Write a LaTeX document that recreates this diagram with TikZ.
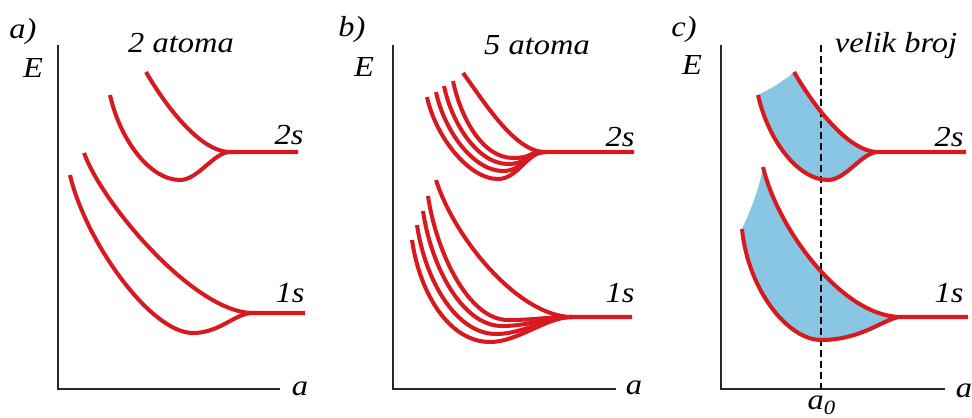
\documentclass[tikz,border=0pt]{standalone}
\usepackage{fontspec}
\setmainfont{Liberation Serif}
\definecolor{lvlred}{RGB}{215,25,32}
\definecolor{bandblue}{RGB}{136,198,228}
\definecolor{axisgray}{RGB}{40,38,40}

\begin{document}
\begin{tikzpicture}[x=0.02cm, y=-0.02cm,
  axis/.style={draw=axisgray, line width=1.5pt},
  level/.style={draw=lvlred, line width=2.3pt},
  band/.style={fill=bandblue},
  lbl/.style={font=\fontsize{16.5}{19}\selectfont\itshape, inner sep=0pt, xscale=1.12, transform shape}]
  \useasboundingbox (0,0) rectangle (972,418);

  % a) two atoms
  \coordinate (Ya) at (58,45);
  \coordinate (Oa) at (58,389);
  \coordinate (Xa) at (280,389);
  \draw[axis] (Ya) -- (Oa) -- (Xa);
  \node[lbl] (pa) at (23,32) {a)};
  \node[lbl] (ta) at (181,43) {2 atoma};
  \node[lbl] (Ea) at (33,68) {E};
  \node[lbl] (aa) at (300,389) {a};

  \coordinate (Ja2) at (230,152); % 2s splitting
  \draw[level] (146,72) .. controls (165,105) and (200,152) .. (Ja2) -- (298,152);
  \draw[level] (110,95) .. controls +(10,45) and +(-30,0) .. (180,180) .. controls +(18,0) and +(-16,0) .. (Ja2);
  \coordinate (Ja1) at (253,313); % 1s splitting
  \draw[level] (84,153) .. controls (103,205) and (195,313) .. (Ja1) -- (305,313);
  \draw[level] (70,175) .. controls (85,240) and (150,333) .. (193,333) .. controls (220,333) and (235,313) .. (Ja1);
  \node[lbl] (s2a) at (289,135) {2s};
  \node[lbl] (s1a) at (290,293) {1s};

  % b) five atoms
  \coordinate (Yb) at (393,45);
  \coordinate (Ob) at (393,389);
  \coordinate (Xb) at (616,389);
  \draw[axis] (Yb) -- (Ob) -- (Xb);
  \node[lbl] (pb) at (352,30) {b)};
  \node[lbl] (tb) at (537,45) {5 atoma};
  \node[lbl] (Eb) at (364,67) {E};
  \node[lbl] (ab) at (634,388) {a};

  \coordinate (Jb2) at (545,152);
  \foreach \sx/\sy/\mx/\my in {427/97/498/179, 436/92/503/171, 444/86/508/164, 453/81/513/158}
    \draw[level] (\sx,\sy) .. controls +(8,38) and +(-30,0) .. (\mx,\my) .. controls +(20,0) and +(-18,0) .. (Jb2);
  \draw[level] (463,73) .. controls (485,103) and (515,152) .. (Jb2) -- (634,152);
  \coordinate (Jb1) at (572,317);
  \foreach \sx/\sy/\mx/\my in {412/240/490/342, 417/225/496/334, 423/211/502/326, 428/196/508/320}
    \draw[level] (\sx,\sy) .. controls +(8,55) and +(-40,0) .. (\mx,\my) .. controls +(28,0) and +(-26,0) .. (Jb1);
  \draw[level] (436,180) .. controls (455,240) and (520,317) .. (Jb1) -- (632,317);
  \node[lbl] (s2b) at (620,137) {2s};
  \node[lbl] (s1b) at (620,293) {1s};

  % c) many atoms -- bands
  \coordinate (Yc) at (721,45);
  \coordinate (Oc) at (721,389);
  \coordinate (Xc) at (945,389);
  \draw[axis] (Yc) -- (Oc) -- (Xc);
  \node[lbl] (pc) at (684,30) {c)};
  \node[lbl] (tc) at (896,46) {velik broj};
  \node[lbl] (Ec) at (692,65) {E};
  \node[lbl] (ac) at (964,391) {a};

  \begin{scope}[shift={(648,0)}]
    \fill[band] (110,95) .. controls +(10,45) and +(-30,0) .. (180,180) .. controls +(18,0) and +(-16,0) .. (230,152)
      .. controls (200,152) and (165,105) .. (146,72) .. controls (135,82) and (120,90) .. (110,95) -- cycle;
    \fill[band] (94,229) .. controls (100,290) and (140,340) .. (173,340) .. controls (215,340) and (238,317) .. (253,317)
      .. controls (195,317) and (130,230) .. (115,167) .. controls (110,195) and (100,215) .. (94,229) -- cycle;
  \end{scope}

  \coordinate (Ta0) at (821,45);
  \coordinate (Ba0) at (821,389);
  \draw[black, line width=0.9pt, dash pattern=on 4pt off 2.2pt] (Ta0) -- (Ba0);
  \node[lbl] (a0) at (822,405) {a\textsubscript{0}};

  \begin{scope}[shift={(648,0)}]
    \draw[level] (146,72) .. controls (165,105) and (200,152) .. (230,152) -- (318,152);
    \draw[level] (110,95) .. controls +(10,45) and +(-30,0) .. (180,180) .. controls +(18,0) and +(-16,0) .. (230,152);
    \draw[level] (115,167) .. controls (130,230) and (195,317) .. (253,317) -- (320,317);
    \draw[level] (94,229) .. controls (100,290) and (140,340) .. (173,340) .. controls (215,340) and (238,317) .. (253,317);
  \end{scope}
  \node[lbl] (s2c) at (949,137) {2s};
  \node[lbl] (s1c) at (949,293) {1s};
\end{tikzpicture}
\end{document}
